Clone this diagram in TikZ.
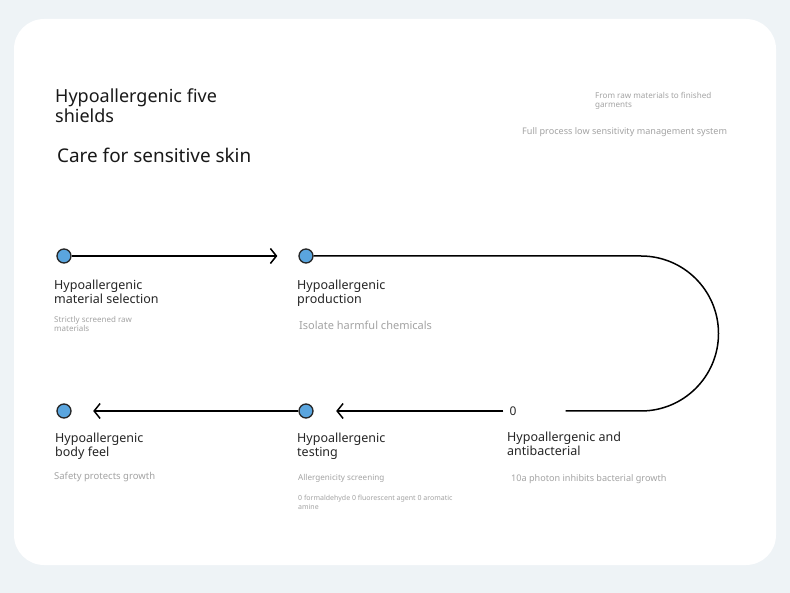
\documentclass[tikz,border=0pt]{standalone}
\usepackage{fontspec}
\setmainfont{Noto Sans}
\usetikzlibrary{arrows.meta}
\definecolor{bgc}{HTML}{EEF3F6}
\definecolor{dotc}{HTML}{5AA5DE}
\definecolor{greyc}{HTML}{A3A3A3}
\begin{document}
\begin{tikzpicture}[x=1pt,y=-1pt,
  dot/.style={circle,draw=black!85,fill=dotc,line width=1.3pt,minimum size=14pt,inner sep=0},
  head/.style={anchor=north west,align=left,inner sep=0,text=black!85,font=\fontsize{12.5}{14}\selectfont},
  note/.style={anchor=north west,align=left,inner sep=0,text=greyc,font=\fontsize{8}{9}\selectfont},
  link/.style={draw,line width=1.5pt},
  >={Straight Barb[length=6pt,width=15pt]}]
\useasboundingbox (0,0) rectangle (790,593);
\fill[bgc] (0,0) rectangle (790,593);
\fill[white,rounded corners=30pt] (14,19) rectangle (776,565);

\node[anchor=north west,align=left,inner sep=0,text=black!90,font=\fontsize{18}{19.5}\selectfont] (title) at (55,89) {Hypoallergenic five\\shields};
\node[anchor=north west,inner sep=0,text=black!90,font=\fontsize{18.9}{20}\selectfont] (care) at (57,147.5) {Care for sensitive skin};
\node[note,font=\fontsize{8.1}{9}\selectfont] (from) at (595,92) {From raw materials to finished\\garments};
\node[note,font=\fontsize{9.1}{10}\selectfont] (full) at (522,127.5) {Full process low sensitivity management system};

\node[dot] (d1) at (64,256) {};
\node[dot] (d2) at (306,256) {};
\node[inner sep=6pt,text=black!85,font=\fontsize{12}{14}\selectfont] (d3) at (513,411) {0};
\node[dot] (d4) at (306,411) {};
\node[dot] (d5) at (64,411) {};

\path[link,->] (d1) -- (d2) [shorten >=21pt];
\path[link] (d2) -- (641,256) arc[start angle=-90,end angle=90,radius=77.5] -- (d3) [shorten >=43pt];
\path[link,->] (d3) -- (d4) [shorten >=22.5pt];
\path[link,->] (d4) -- (d5) [shorten >=21.5pt];

\node[head] (h1) at (54,279.5) {Hypoallergenic\\material selection};
\node[note] (n1) at (54,316.5) {Strictly screened raw\\materials};
\node[head] (h2) at (297,279.5) {Hypoallergenic\\production};
\node[note,font=\fontsize{11}{12}\selectfont] (n2) at (299,320.5) {Isolate harmful chemicals};
\node[head] (h3) at (507,431.5) {Hypoallergenic and\\antibacterial};
\node[note,font=\fontsize{9.1}{10}\selectfont] (n3) at (511,474) {10a photon inhibits bacterial growth};
\node[head] (h4) at (297,432.5) {Hypoallergenic\\testing};
\node[note,font=\fontsize{8.1}{9}\selectfont] (n4) at (298,474.5) {Allergenicity screening};
\node[note,font=\fontsize{7}{9}\selectfont] (n4b) at (298,495) {0 formaldehyde 0 fluorescent agent 0 aromatic\\amine};
\node[head] (h5) at (55,432.5) {Hypoallergenic\\body feel};
\node[note,font=\fontsize{9.5}{10}\selectfont] (n5) at (54,472) {Safety protects growth};
\end{tikzpicture}
\end{document}
